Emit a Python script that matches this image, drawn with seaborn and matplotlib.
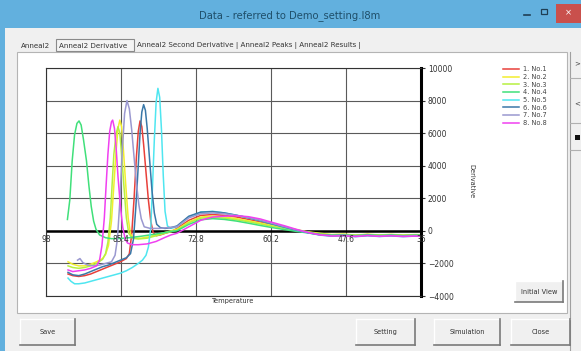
import numpy as np
import pandas as pd
import matplotlib
matplotlib.use("Agg")
import matplotlib.pyplot as plt
import seaborn as sns
from matplotlib.patches import Rectangle

# ---------------- data ----------------
series_names = ["1. No.1", "2. No.2", "3. No.3", "4. No.4",
                "5. No.5", "6. No.6", "7. No.7", "8. No.8"]
series_colors = ["#e8403a", "#f2ee2e", "#b6f040", "#40e07a",
                 "#4fe6f0", "#3a78a8", "#9a98d0", "#f040f0"]

x_ticks = [98, 85.4, 72.8, 60.2, 47.6, 35]
x_tick_labels = ["98", "85.4", "72.8", "60.2", "47.6", "35"]
y_ticks = [-4000, -2000, 0, 2000, 4000, 6000, 8000, 10000]

tail_temps = [76, 74, 72, 70, 68, 66, 64, 62, 60, 58, 56, 54, 52, 50, 48, 46, 44, 42, 40, 38, 36, 35]

head_temps_no1 = [94.3, 93.5, 92.5, 91.5, 90.5, 89.5, 88.5, 87.5, 86.5, 85.5, 84.5, 84.0, 83.6, 83.2,
                  82.8, 82.5, 82.2, 81.9, 81.6, 81.2, 80.8, 80.4, 80.0, 79.5, 78.8, 78.0, 77.0]
head_no1 = [-2650, -2750, -2800, -2750, -2650, -2500, -2350, -2200, -2050, -1900, -1700, -1400, -200, 2000,
            4600, 6100, 6750, 6400, 5300, 3600, 1900, 600, -100, -300, -250, -150, -50]
tail_no1 = [150, 650, 950, 1000, 950, 850, 700, 550, 380, 220, 60, -100, -220, -280, -250, -300, -230, -290, -240, -300, -250, -270]

head_temps_no2 = [94.3, 93.5, 92.5, 91.5, 90.5, 89.5, 88.5, 88.0, 87.5, 87.0, 86.6, 86.2, 85.9, 85.6,
                  85.3, 85.0, 84.6, 84.2, 83.8, 83.2, 82.0, 80.5, 79.0, 77.5]
head_no2 = [-1900, -2050, -2150, -2150, -2050, -1900, -1700, -1450, -900, 600, 2800, 5000, 6300, 6800,
            6400, 5000, 2800, 800, -200, -450, -450, -350, -200, -50]
tail_no2 = [100, 550, 850, 900, 850, 750, 620, 480, 330, 200, 80, -60, -150, -230, -200, -260, -210, -250, -220, -260, -230, -240]

head_temps_no3 = [94.3, 93.5, 92.5, 91.5, 90.5, 89.5, 88.5, 88.0, 87.6, 87.2, 86.9, 86.6, 86.2, 85.9,
                  85.6, 85.3, 84.9, 84.5, 84.1, 83.5, 82.5, 81.0, 79.5, 78.0, 77.0]
head_no3 = [-2150, -2250, -2300, -2250, -2150, -2000, -1750, -1400, -700, 800, 2800, 4700, 6000, 6400,
            6000, 4700, 2700, 800, -150, -450, -500, -450, -300, -150, -50]
tail_no3 = [50, 500, 780, 820, 780, 680, 560, 420, 280, 150, 40, -80, -180, -240, -220, -270, -220, -260, -230, -270, -240, -250]

head_temps_no4 = [94.4, 94.0, 93.6, 93.2, 92.8, 92.45, 92.1, 91.7, 91.2, 90.8, 90.4, 90.0, 89.6, 89.0,
                  88.0, 87.0, 85.6, 84.0, 82.0, 80.0, 78.0, 77.0]
head_no4 = [700, 1900, 4300, 5900, 6600, 6750, 6500, 5600, 4300, 2800, 1500, 600, 100, -250,
            -420, -480, -470, -420, -330, -220, -100, -30]
tail_no4 = [0, 400, 680, 750, 700, 600, 470, 330, 200, 80, -30, -130, -220, -260, -240, -290, -240, -280, -250, -290, -260, -270]

head_temps_no5 = [94.3, 93.8, 93.2, 92.5, 91.5, 90.5, 89.5, 88.5, 87.5, 86.5, 85.5, 84.5, 83.5, 82.5,
                  81.8, 81.2, 80.8, 80.4, 80.1, 79.8, 79.5, 79.2, 78.9, 78.6, 78.3, 78.0, 77.6, 77.0]
head_no5 = [-2900, -3100, -3250, -3250, -3200, -3100, -3000, -2900, -2800, -2700, -2600, -2450, -2250, -2000,
            -1800, -1500, -1000, 200, 2800, 5600, 7900, 8750, 8200, 6200, 3400, 1200, 300, 150]
tail_no5 = [250, 850, 1150, 1200, 1100, 950, 800, 620, 420, 220, 40, -120, -260, -330, -300, -360, -300, -350, -310, -360, -320, -330]

head_temps_no6 = [94.3, 93.5, 92.5, 91.5, 90.5, 89.5, 88.5, 87.5, 86.5, 85.5, 84.5, 83.8, 83.3, 82.9,
                  82.5, 82.2, 81.9, 81.6, 81.3, 81.0, 80.6, 80.2, 79.8, 79.4, 78.8, 78.0, 77.0]
head_no6 = [-2550, -2700, -2750, -2650, -2500, -2350, -2200, -2100, -1950, -1800, -1650, -1400, -500, 1500,
            4000, 6000, 7300, 7750, 7400, 6300, 4400, 2500, 1100, 400, 200, 150, 200]
tail_no6 = [300, 900, 1150, 1180, 1100, 960, 800, 620, 420, 230, 50, -110, -240, -300, -280, -330, -280, -320, -290, -330, -300, -310]

head_temps_no7 = [92.7, 92.3, 91.8, 91.0, 90.0, 89.0, 88.0, 87.0, 86.4, 86.0, 85.6, 85.2, 84.8, 84.4,
                  84.0, 83.6, 83.2, 82.8, 82.4, 82.0, 81.5, 80.5, 79.0, 77.5]
head_no7 = [-1800, -1700, -1950, -2100, -2150, -2100, -2000, -1900, -1500, -500, 1800, 4800, 7200, 8000,
            7500, 6200, 4500, 2900, 1600, 750, 250, 150, 150, 200]
tail_no7 = [250, 800, 1050, 1100, 1050, 950, 820, 650, 460, 260, 70, -90, -230, -290, -270, -320, -270, -310, -280, -320, -290, -300]

head_temps_no8 = [94.3, 93.5, 92.5, 91.5, 90.5, 89.5, 89.0, 88.6, 88.2, 87.9, 87.6, 87.3, 87.0, 86.8,
                  86.5, 86.2, 85.9, 85.5, 85.1, 84.7, 84.3, 83.5, 82.5, 81.0, 79.5, 78.0, 77.0]
head_no8 = [-2400, -2500, -2450, -2400, -2300, -2150, -1800, -900, 800, 2800, 4700, 6100, 6700, 6800,
            6300, 5000, 3300, 1500, 200, -500, -750, -850, -850, -800, -650, -400, -250]
tail_no8 = [-150, 250, 650, 850, 900, 930, 870, 730, 520, 320, 100, -100, -250, -320, -300, -350, -290, -340, -300, -350, -320, -330]

heads_t = [head_temps_no1, head_temps_no2, head_temps_no3, head_temps_no4,
           head_temps_no5, head_temps_no6, head_temps_no7, head_temps_no8]
heads_v = [head_no1, head_no2, head_no3, head_no4, head_no5, head_no6, head_no7, head_no8]
tails_v = [tail_no1, tail_no2, tail_no3, tail_no4, tail_no5, tail_no6, tail_no7, tail_no8]

rows = []
for name, ht, hv, tv in zip(series_names, heads_t, heads_v, tails_v):
    for t, v in zip(list(ht) + tail_temps, list(hv) + tv):
        rows.append({"Temperature": t, "Derivative": v, "Sample": name})
df = pd.DataFrame(rows)

# ---------------- figure ----------------
W, H = 581, 351
fig = plt.figure(figsize=(W / 100, H / 100), dpi=100)
fig.patch.set_facecolor("white")
plt.rcParams["font.family"] = ["DejaVu Sans"]

bg = fig.add_axes([0, 0, 1, 1], zorder=-5)
bg.set_xlim(0, W)
bg.set_ylim(H, 0)
bg.axis("off")

# window chrome
bg.add_patch(Rectangle((0, 0), 5, H, color="#62b0de", lw=0))
bg.add_patch(Rectangle((5, 0), W - 5, 28, color="#62b0de", lw=0))
bg.add_patch(Rectangle((5, 28), W - 5, H - 28, color="#f0f0f0", lw=0))
bg.text(290, 16, "Data - referred to Demo_setting.I8m", ha="center", va="center",
        fontsize=7.2, color="#1f4f6a")
bg.add_patch(Rectangle((556, 4), 25, 19, color="#c9504c", lw=0))
bg.text(568, 13, "×", ha="center", va="center", fontsize=6, color="white")
bg.plot([524, 530], [15, 15], color="#1f3f55", lw=1.2)
bg.add_patch(Rectangle((541, 9), 6, 5, fill=False, ec="#1f3f55", lw=0.9))

# tab panel
bg.add_patch(Rectangle((17, 52), 550, 261, facecolor="white", edgecolor="#b4b4b4", lw=0.8))
bg.add_patch(Rectangle((56, 39), 78, 12, facecolor="#f4f4f4", edgecolor="#8a8a8a", lw=0.8))
tab_style = dict(fontsize=5.1, color="#333333", va="center", ha="left")
bg.text(21, 45.5, "Anneal2", **tab_style)
bg.text(59, 45.5, "Anneal2 Derivative", **tab_style)
bg.text(137, 45.5, "Anneal2 Second Derivative | Anneal2 Peaks | Anneal2 Results |", **tab_style)

# right strip
bg.plot([570, 570], [52, H], color="#a0a0a0", lw=0.8)
for yy in (78, 123, 150):
    bg.plot([570, W], [yy, yy], color="#b0b0b0", lw=0.8)
bg.text(577, 63, ">", fontsize=5, color="#444", ha="center", va="center")
bg.text(577, 103, "<", fontsize=5, color="#444", ha="center", va="center")
bg.add_patch(Rectangle((575, 135), 5, 5, color="#111", lw=0))


def button(x0, y0, x1, y1, label):
    bg.add_patch(Rectangle((x0, y0), x1 - x0, y1 - y0, facecolor="#f0f0f0", edgecolor="none"))
    bg.plot([x0, x1], [y0, y0], color="#ffffff", lw=1)
    bg.plot([x0, x0], [y0, y1], color="#ffffff", lw=1)
    bg.plot([x0, x1], [y1, y1], color="#7a7a7a", lw=1.2)
    bg.plot([x1, x1], [y0, y1], color="#7a7a7a", lw=1.2)
    bg.text((x0 + x1) / 2, (y0 + y1) / 2, label, ha="center", va="center",
            fontsize=4.8, color="#333333")


button(20, 319, 75, 345, "Save")
button(356, 319, 415, 345, "Setting")
button(434, 319, 500, 345, "Simulation")
button(511, 319, 570, 345, "Close")
button(515, 281, 563, 302, "Initial View")

# ---------------- chart ----------------
L, R, T, B = 46, 421, 68, 296
ax = fig.add_axes([L / W, 1 - B / H, (R - L) / W, (B - T) / H])
ax.set_facecolor("white")

palette = dict(zip(series_names, series_colors))
sns.lineplot(data=df, x="Temperature", y="Derivative", hue="Sample", palette=palette,
             hue_order=series_names, estimator=None, linewidth=1.1, ax=ax, legend=True)

ax.set_xlim(98, 35)
ax.set_ylim(-4000, 10000)
ax.set_xticks(x_ticks)
ax.set_yticks(y_ticks)
ax.grid(True, color="#5a5a5a", lw=0.8)
ax.set_axisbelow(True)
ax.axhline(0, color="black", lw=1.8, zorder=1.5)
ax.tick_params(axis="x", length=0, labelbottom=False)
ax.yaxis.tick_right()
ax.tick_params(axis="y", which="both", right=True, left=False, length=3, width=0.8,
               labelsize=5.5, labelcolor="#333333", pad=2, color="#333333")
for side in ("left", "top", "bottom"):
    ax.spines[side].set_linewidth(0.8)
    ax.spines[side].set_color("#333333")
ax.spines["right"].set_linewidth(2.2)
ax.spines["right"].set_color("black")

for t, lab in zip(x_ticks, x_tick_labels):
    ax.text(t, -250, lab, ha="center", va="top", fontsize=5.5, color="#333333")

ax.set_xlabel("")
ax.set_ylabel("")
ax.text((233 - L) / (R - L), -(301 - B) / (B - T), "Temperature", transform=ax.transAxes,
        ha="center", va="center", fontsize=4.8, color="#333333")
ax.text((471 - L) / (R - L), (B - 181) / (B - T), "Derivative", transform=ax.transAxes,
        ha="center", va="center", rotation=270, fontsize=4.8, color="#333333")

handles, labels = ax.get_legend_handles_labels()
leg = ax.legend(handles, labels, loc="upper left", bbox_to_anchor=(500 / W, 1 - 63 / H),
                bbox_transform=fig.transFigure, frameon=False, fontsize=4.8,
                handlelength=2.4, handletextpad=0.5, labelspacing=0.25, borderpad=0)
for txt in leg.get_texts():
    txt.set_color("#444444")
for ln in leg.get_lines():
    ln.set_linewidth(1.1)

fig.savefig("out.png", dpi=100)
